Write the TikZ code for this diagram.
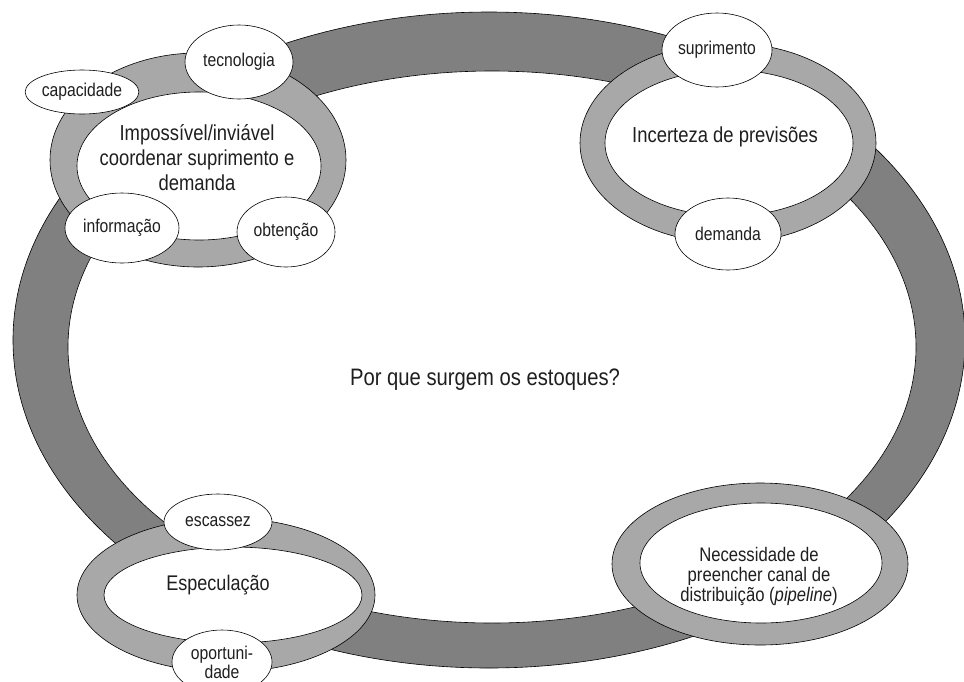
\documentclass[tikz,border=0pt]{standalone}
\usepackage{fontspec}
\setmainfont{Liberation Sans}[FakeStretch=0.85]
\usetikzlibrary{shapes.geometric}
\definecolor{bandgray}{gray}{0.50}
\definecolor{ringgray}{gray}{0.66}
\definecolor{txt}{gray}{0.12}
\begin{document}
\begin{tikzpicture}[x=1pt,y=-1pt,
  bandshape/.style={ellipse, draw=black, line width=0.6pt, fill=bandgray, inner sep=0pt},
  ringshape/.style={ellipse, draw=black, line width=0.6pt, fill=ringgray, inner sep=0pt},
  holeshape/.style={ellipse, draw=black, line width=0.6pt, fill=white, inner sep=0pt},
  tag/.style={ellipse, draw=black, line width=0.6pt, fill=white, inner sep=0pt,
    text=txt, align=center, font=\fontsize{18.5}{19}\selectfont},
  bigtext/.style={text=txt, align=center, inner sep=0pt, font=\fontsize{21.7}{25}\selectfont},
  qtext/.style={text=txt, align=center, inner sep=0pt, font=\fontsize{23.8}{27}\selectfont}
]
\useasboundingbox (0,0) rectangle (964,681);
\clip (0,0) rectangle (964,681);
\fill[white] (0,0) rectangle (964,681);

% large ring
\node[bandshape, minimum width=952pt, minimum height=656pt] (bigout) at (489,340) {};
\node[holeshape, minimum width=848pt, minimum height=552pt] (bigin) at (492,347) {};

% ring 1: Impossivel
\node[ringshape, minimum width=296pt, minimum height=214pt] (r1out) at (198,160) {};
\node[holeshape, minimum width=244pt, minimum height=148pt] (r1in) at (199,166) {};
% ring 2: Incerteza
\node[ringshape, minimum width=296pt, minimum height=200pt] (r2out) at (728,143) {};
\node[holeshape, minimum width=248pt, minimum height=146pt] (r2in) at (729,143) {};
% ring 3: Especulacao
\node[ringshape, minimum width=298pt, minimum height=154pt] (r3out) at (226,595) {};
\node[holeshape, minimum width=258pt, minimum height=96pt] (r3in) at (233,595) {};
% ring 4: Necessidade
\node[ringshape, minimum width=296pt, minimum height=162pt] (r4out) at (760,564) {};
\node[holeshape, minimum width=242pt, minimum height=120pt] (r4in) at (761,563) {};

% small tags
\node[tag, minimum width=110pt, minimum height=44pt] (capacidade) at (82,92) {capacidade};
\node[tag, minimum width=108pt, minimum height=74pt] (tecnologia) at (239,62) {tecnologia};
\node[tag, minimum width=114pt, minimum height=70pt] (informacao) at (122,228) {informação};
\node[tag, minimum width=98pt, minimum height=70pt] (obtencao) at (286,232) {obtenção};
\node[tag, minimum width=108pt, minimum height=74pt] (suprimento) at (717,50) {suprimento};
\node[tag, minimum width=106pt, minimum height=72pt] (demanda) at (728,234) {demanda};
\node[tag, minimum width=108pt, minimum height=56pt] (escassez) at (218,522) {escassez};
\node[tag, minimum width=100pt, minimum height=64pt] (oportunidade) at (222,662) {oportuni-\\dade};

% texts
\node[bigtext] (impossivel) at (197,158) {Impossível/inviável\\coordenar suprimento e\\demanda};
\node[bigtext] (incerteza) at (725,137) {Incerteza de previsões};
\node[bigtext, font=\fontsize{21.2}{24}\selectfont] (especulacao) at (218,585) {Especulação};
\node[bigtext, font=\fontsize{19.6}{20}\selectfont] (necessidade) at (759,576) {Necessidade de\\preencher canal de\\distribuição (\textit{pipeline})};
\node[qtext] (pergunta) at (485,380) {Por que surgem os estoques?};
\end{tikzpicture}
\end{document}
